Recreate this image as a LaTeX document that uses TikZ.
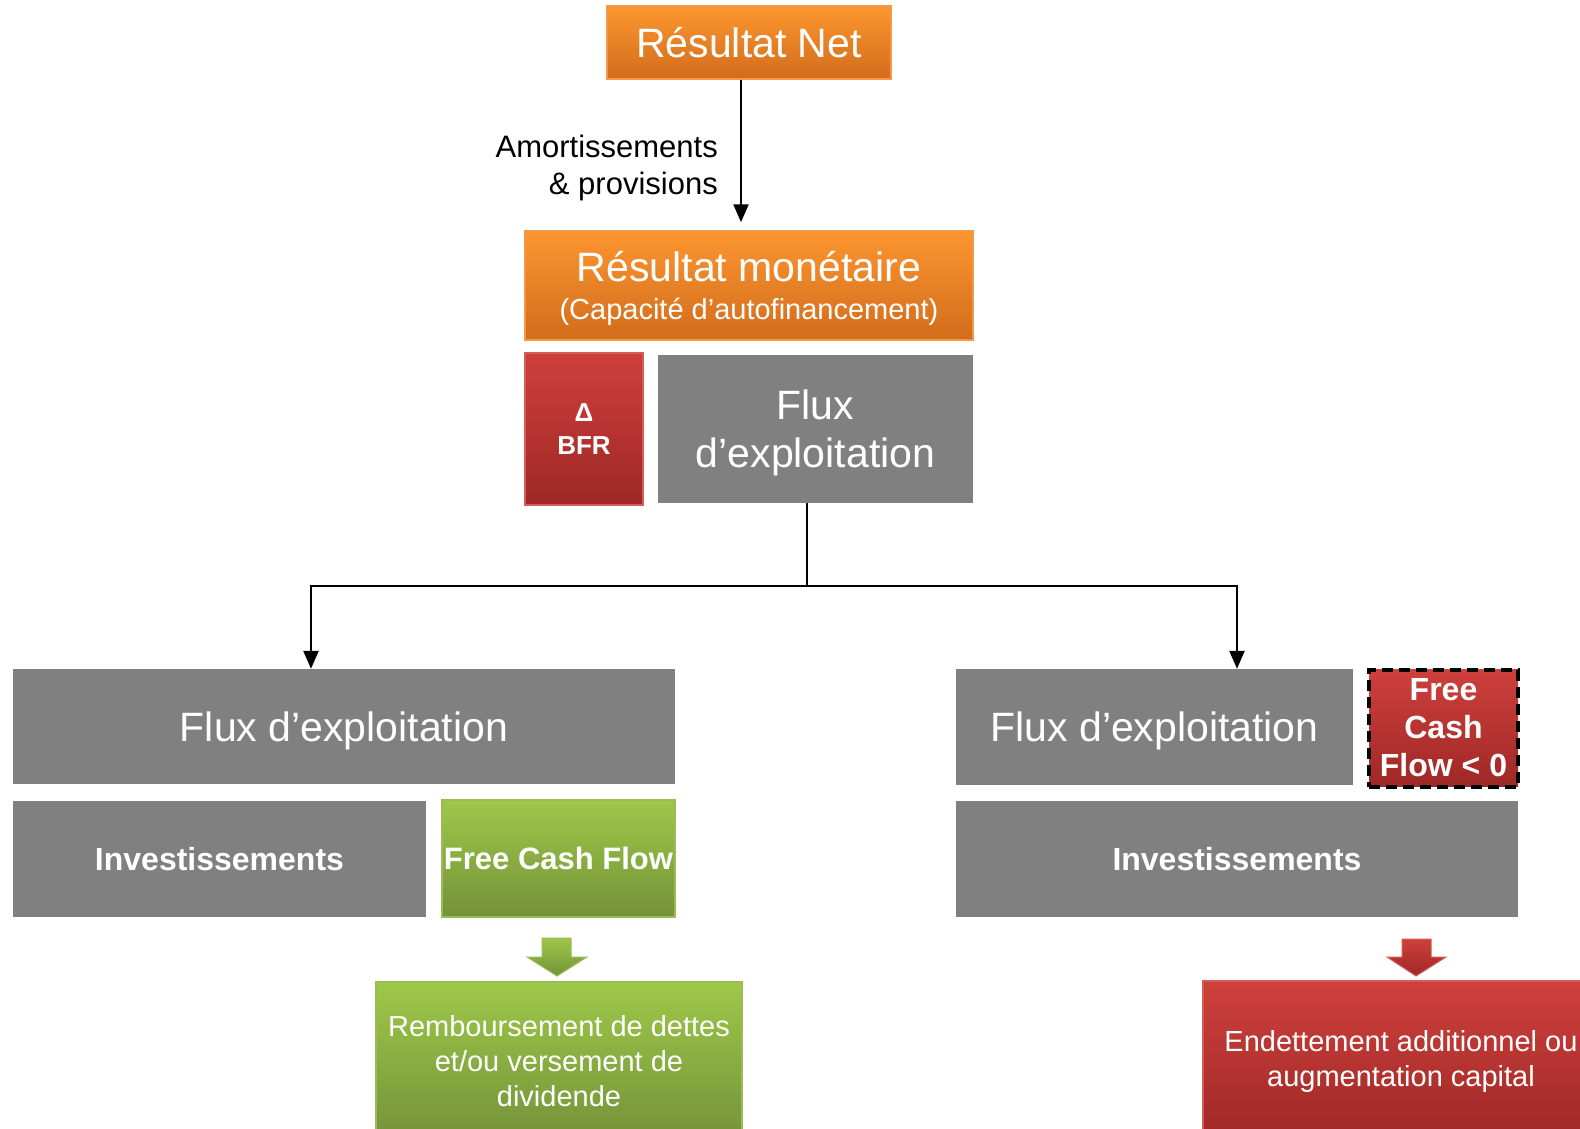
\documentclass[tikz,border=0pt]{standalone}
\usepackage{fontspec}
\setmainfont{Liberation Sans}
\usetikzlibrary{arrows.meta,calc}
\definecolor{orT}{RGB}{252,150,48}
\definecolor{orB}{RGB}{210,108,28}
\definecolor{orL}{RGB}{247,150,70}
\definecolor{grayc}{RGB}{128,128,128}
\definecolor{redT}{RGB}{206,64,60}
\definecolor{redB}{RGB}{158,40,38}
\definecolor{redL}{RGB}{214,92,88}
\definecolor{grT}{RGB}{158,200,72}
\definecolor{grB}{RGB}{116,146,58}
\definecolor{grL}{RGB}{155,187,89}
\newcommand{\fsz}[2]{\fontsize{#1}{#2}\selectfont}
\begin{document}
\begin{tikzpicture}[x=1pt,y=-1pt,
  box/.style={rectangle, inner sep=0pt, align=center, text=white},
  orbox/.style={box, top color=orT, bottom color=orB, draw=orL, line width=1.5pt},
  graybox/.style={box, fill=grayc},
  redbox/.style={box, top color=redT, bottom color=redB, draw=redL, line width=1.5pt},
  greenbox/.style={box, top color=grT, bottom color=grB, draw=grL, line width=1.5pt},
  dashbox/.style={box, top color=redT, bottom color=redB, draw=black, line width=4pt, dash pattern=on 11pt off 6pt},
  conn/.style={line width=2.4pt, draw=black, line join=miter},
  arr/.style={conn, -{Triangle[width=15pt,length=18pt]}},
  greenarrow/.style={top color=grT, bottom color=grB, draw=grL, line width=1pt},
  redarrow/.style={top color=redT, bottom color=redB, draw=redL, line width=1pt},
]
\useasboundingbox (0,0) rectangle (1580,1128);
\begin{scope}
\clip (0,0) rectangle (1580,1128);

\node[orbox, minimum width=284pt, minimum height=73pt, font=\fsz{41}{47}] (rnet) at (749,42.5) {Résultat Net};
\node[orbox, minimum width=448pt, minimum height=109pt, font=\fsz{41}{44}, text depth=0pt] (rmon) at (749,285.5)
  {Résultat monétaire\\[-6pt]\fsz{29}{32}(Capacité d’autofinancement)};
\node[anchor=east, align=right, inner sep=0pt, font=\fsz{31}{37}] (amlab) at (718,168) {Amortissements\\\& provisions};
\draw[arr, shorten >=8pt] ([xshift=-8pt]rnet.south) -- ([xshift=-8pt]rnet.south |- rmon.north);

\node[redbox, minimum width=118pt, minimum height=152pt, font=\bfseries\fsz{26}{33}] (bfr) at (584,429) {Δ\\BFR};
\node[graybox, minimum width=315pt, minimum height=148pt, font=\fsz{41}{48}, text depth=0pt] (flux0) at (815.5,429) {Flux\\d’exploitation};

\node[graybox, minimum width=662pt, minimum height=115pt, font=\fsz{41}{48}, text depth=0pt] (fluxL) at (344,726.5) {Flux d’exploitation};
\node[graybox, minimum width=413pt, minimum height=116pt, font=\bfseries\fsz{32}{38}] (invL) at (219.5,859) {Investissements};
\node[greenbox, minimum width=233pt, minimum height=117pt, font=\bfseries\fsz{31}{38}] (fcf) at (558.5,858.5) {Free Cash Flow};

\node[graybox, minimum width=397pt, minimum height=116pt, font=\fsz{41}{48}, text depth=0pt] (fluxR) at (1154.5,727) {Flux d’exploitation};
\node[dashbox, minimum width=149pt, minimum height=117pt, font=\bfseries\fsz{32}{38}] (fcfneg) at (1443.5,728) {Free\\Cash\\Flow < 0};
\node[graybox, minimum width=562pt, minimum height=116pt, font=\bfseries\fsz{32}{38}] (invR) at (1237,859) {Investissements};

\node[greenbox, minimum width=366pt, minimum height=158pt, font=\fsz{29}{35}] (remb) at (559,1061) {Remboursement de dettes\\et/ou versement de\\dividende};
\node[redbox, minimum width=396pt, minimum height=160pt, font=\fsz{29}{35}] (endet) at (1401,1061) {Endettement additionnel ou\\augmentation capital};

\coordinate (jm) at (807,586);
\coordinate (jl) at (311,586);
\coordinate (jr) at (1237,586);
\draw[conn] ([xshift=-8.5pt]flux0.south) -- (jm);
\draw[arr] (jm) -- (jl) -- (jl |- fluxL.north);
\draw[arr] (jm) -- (jr) -- (jr |- fluxR.north);

\path[greenarrow] (542,938) -- (571,938) -- (571,957) -- (587,957) -- (557,976) -- (527,957) -- (542,957) -- cycle;
\path[redarrow] (1402,939) -- (1431,939) -- (1431,957) -- (1446,957) -- (1416,976) -- (1387,957) -- (1402,957) -- cycle;
\end{scope}
\end{tikzpicture}
\end{document}
